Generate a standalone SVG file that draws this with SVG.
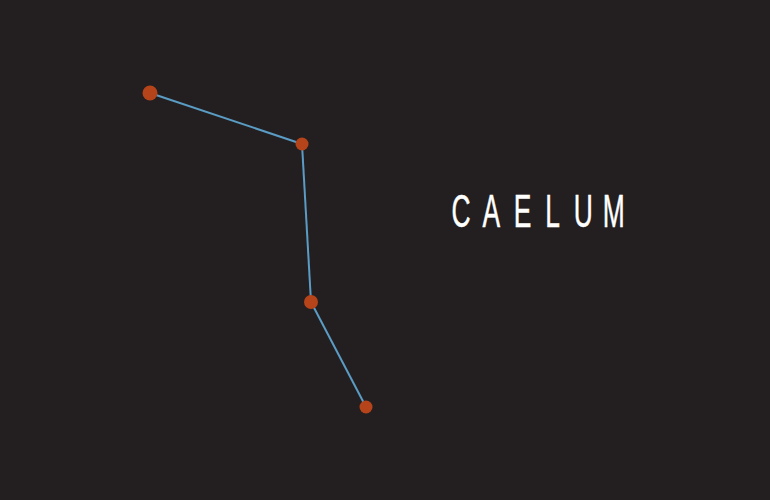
<svg xmlns="http://www.w3.org/2000/svg" width="770" height="500" viewBox="0 0 770 500">
<style>
.edge{stroke:#5b9cc4;stroke-width:2;fill:none}
.star{fill:#b5441a}
.label{font-family:"Liberation Sans",Arial,sans-serif;font-size:46.5px;fill:#ffffff;stroke:#ffffff;stroke-width:0.5;text-anchor:middle}
</style>
<rect width="770" height="500" fill="#231f20"/>
<g id="connectors">
<line class="edge" x1="150" y1="93" x2="302" y2="144"/>
<line class="edge" x1="302" y1="144" x2="311" y2="302"/>
<line class="edge" x1="311" y1="302" x2="366" y2="407"/>
</g>
<g id="star1"><circle class="star" cx="150" cy="93" r="7.5"/></g>
<g id="star2"><circle class="star" cx="302" cy="144" r="6.5"/></g>
<g id="star3"><circle class="star" cx="311" cy="302" r="7"/></g>
<g id="star4"><circle class="star" cx="366" cy="407" r="6.5"/></g>
<g id="title"><text class="label" transform="scale(0.568,1)" x="811.6 864.8 920.2 972.7 1027 1080.6" y="227">CAELUM</text></g>
</svg>
